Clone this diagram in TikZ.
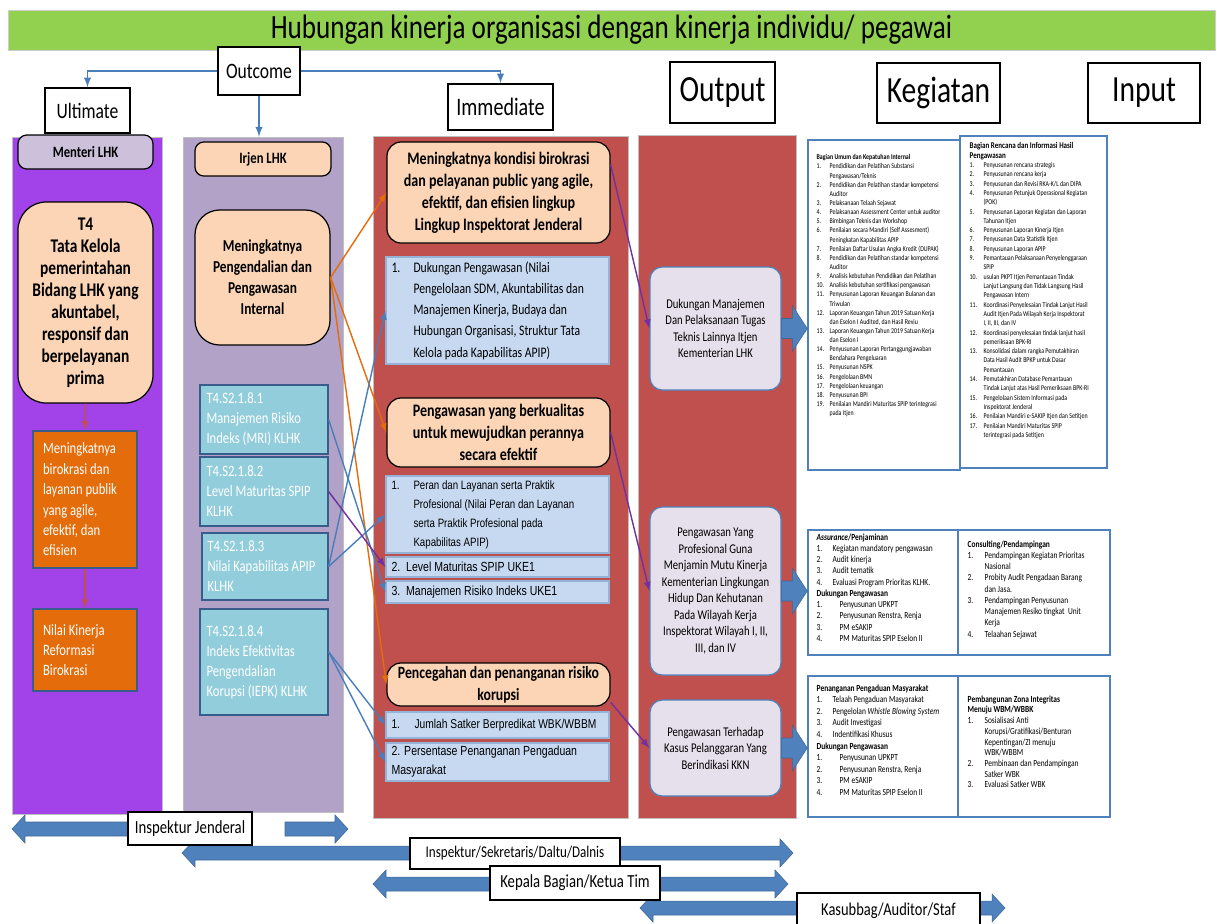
\documentclass[tikz,border=0pt]{standalone}
\usepackage{fontspec}
\setmainfont{Carlito}[FakeStretch=0.8]
\newfontfamily\arialfont{Liberation Sans}[FakeStretch=0.8]
\usetikzlibrary{arrows,positioning,calc}

\definecolor{titlegreen}{RGB}{146,208,80}
\definecolor{ultpurple}{RGB}{161,67,233}
\definecolor{irjlav}{RGB}{178,162,199}
\definecolor{mentfill}{RGB}{204,192,218}
\definecolor{peachc}{RGB}{251,213,181}
\definecolor{orangec}{RGB}{228,108,10}
\definecolor{kpiblue}{RGB}{146,205,220}
\definecolor{kpiedge}{RGB}{56,93,138}
\definecolor{redcol}{RGB}{192,80,77}
\definecolor{lstblue}{RGB}{198,217,241}
\definecolor{lstedge}{RGB}{149,179,215}
\definecolor{outfill}{RGB}{229,224,236}
\definecolor{outedge}{RGB}{79,129,189}
\definecolor{arrowblue}{RGB}{79,129,189}
\definecolor{linkblue}{RGB}{74,126,187}
\definecolor{linkpurple}{RGB}{112,48,160}

\newlength{\knw}
\newcommand{\kn}[2]{\makebox[\knw][l]{#1}#2}
\newcommand{\kc}[1]{\hspace*{\knw}#1}

% fat arrow from an output box to its kegiatan box
\newcommand{\blockarrow}[2]{%
  \fill[blockarrow] let \p1=(#1.east), \p2=(#2.west) in
    (\x1,\y1+0.2cm) -- (\x2-0.3cm,\y1+0.2cm) -- (\x2-0.3cm,\y1+0.46cm) -- (\x2,\y1)
    -- (\x2-0.3cm,\y1-0.46cm) -- (\x2-0.3cm,\y1-0.2cm) -- (\x1,\y1-0.2cm) -- cycle;}
% flat bar arrow for the levels at the bottom
\newcommand{\barto}[2]{%
  \fill[bararrow] let \p1=(#1), \p2=(#2), \n1={sign(\x2-\x1)} in
    (\x1,\y1+0.14cm) -- (\x2-\n1*0.26cm,\y1+0.14cm) -- (\x2-\n1*0.26cm,\y1+0.28cm) -- (\x2,\y1)
    -- (\x2-\n1*0.26cm,\y1-0.28cm) -- (\x2-\n1*0.26cm,\y1-0.14cm) -- (\x1,\y1-0.14cm) -- cycle;}

\tikzset{
  span/.style n args={4}{at={({(#1+#3)/2},{(#2+#4)/2})},
    minimum width={(#3-#1)*0.02cm}, minimum height={(#4-#2)*0.02cm}},
  hdr/.style={draw=black, line width=0.8pt, fill=white, inner sep=0pt, font=\fontsize{12.5}{14}\selectfont},
  bighdr/.style={hdr, font=\fontsize{21}{24}\selectfont},
  col/.style={draw=gray!50, inner sep=0pt},
  peach/.style={draw=black, line width=0.7pt, fill=peachc, rounded corners=8pt, inner sep=0pt, align=center, font=\bfseries\fontsize{10}{12.5}\selectfont},
  kpi/.style={draw=kpiedge, line width=0.7pt, fill=kpiblue, inner sep=0pt, text=white, align=flush left, text width=2.3cm, font=\fontsize{9}{11.4}\selectfont},
  orangebox/.style={draw=kpiedge, line width=0.7pt, fill=orangec, inner sep=0pt, text=white, align=flush left, text width=1.68cm, font=\fontsize{9}{11.6}\selectfont},
  lst/.style={draw=lstedge, line width=0.7pt, fill=lstblue, inner sep=0pt, align=flush left, text width=4.24cm, font=\arialfont\fontsize{7.5}{10.8}\selectfont},
  outbox/.style={draw=outedge, line width=0.7pt, fill=outfill, rounded corners=7pt, inner sep=0pt, align=center, font=\fontsize{7.6}{9.4}\selectfont},
  keg/.style={draw=outedge, line width=0.8pt, inner sep=0pt},
  ktext/.style={anchor=north west, inner sep=0pt, align=left},
  lbl/.style={draw=black, line width=0.8pt, fill=white, inner sep=0pt},
  outlink/.style={draw=linkblue, line width=0.9pt, -latex},
  orangelink/.style={draw=orangec, line width=0.8pt, -latex},
  bluelink/.style={draw=linkblue, line width=0.8pt, -latex},
  purplelink/.style={draw=linkpurple, line width=0.8pt, -latex},
  redlink/.style={draw=redcol, line width=0.8pt, -latex},
  blockarrow/.style={fill=arrowblue, draw=arrowblue!80!black, line width=0.3pt},
  bararrow/.style={fill=arrowblue, draw=arrowblue!80!black, line width=0.3pt}
}

\begin{document}
\begin{tikzpicture}[x=0.02cm, y=-0.02cm]
\useasboundingbox (0,0) rectangle (1217,923);

% title and headings
\node[fill=titlegreen, draw=gray!40, inner sep=0pt, span={8}{10}{1215}{50},
      font=\fontsize{19.3}{22}\selectfont] (title) {Hubungan kinerja organisasi dengan kinerja individu/ pegawai};
\node[hdr, span={218}{47}{300}{95}] (outcome) {Outcome};
\node[hdr, span={45}{88}{130}{133}] (ultimate) {Ultimate};
\node[hdr, span={448}{84}{553}{130}, font=\fontsize{14.3}{16}\selectfont] (immediate) {Immediate};
\node[bighdr, span={670}{62}{775}{123}] (output) {Output};
\node[bighdr, span={877}{63}{1000}{123}] (kegiatan) {Kegiatan};
\node[bighdr, span={1088}{63}{1200}{123}] (input) {Input};

% columns
\node[col, fill=ultpurple, span={12}{137}{162}{814}] (ultcol) {};
\node[col, fill=irjlav, span={183}{137}{343}{812}] (irjcol) {};
\node[col, fill=redcol, span={373}{136}{628}{818}] (immcol) {};
\node[col, fill=redcol, span={638}{135}{796}{818}] (outcol) {};

\draw[outlink] (outcome.west) -| (ultimate.north);
\draw[outlink] (outcome.east) -| (immediate.north);
\draw[outlink] (outcome.south) -- (outcome.south |- irjcol.north);

% ultimate column
\node[peach, fill=mentfill, rounded corners=5pt, font=\bfseries\fontsize{9}{11}\selectfont,
      span={18}{135}{153}{169}] (menteri) {Menteri LHK};
\node[peach, rounded corners=16pt, font=\bfseries\fontsize{11}{12.5}\selectfont, span={18}{202}{153}{403}] (t4)
  {T4\\Tata Kelola\\pemerintahan\\Bidang LHK yang\\akuntabel,\\responsif dan\\berpelayanan\\prima};
\node[orangebox, span={33}{431}{137}{568}] (ora1)
  {Meningkatnya\\birokrasi dan\\layanan publik\\yang agile,\\efektif, dan\\efisien};
\node[orangebox, span={33}{609}{137}{691}] (ora2) {Nilai Kinerja\\Reformasi\\Birokrasi};
\draw[redlink] (t4.south) -- (ora1.north);
\draw[redlink] (ora1.south) -- (ora2.north);

% irjen column
\node[peach, rounded corners=5pt, font=\bfseries\fontsize{9}{11}\selectfont,
      span={195}{142}{331}{176}] (irjen) {Irjen LHK};
\node[peach, rounded corners=14pt, font=\bfseries\fontsize{9.5}{12}\selectfont,
      span={195}{210}{330}{345}] (peng) {Meningkatnya\\Pengendalian dan\\Pengawasan\\Internal};
\node[kpi, span={200}{385}{328}{454}] (b1) {T4.S2.1.8.1\\Manajemen Risiko\\Indeks (MRI) KLHK};
\node[kpi, span={200}{457}{328}{526}] (b2) {T4.S2.1.8.2\\Level Maturitas SPIP\\KLHK};
\node[kpi, span={202}{533}{328}{600}] (b3) {T4.S2.1.8.3\\Nilai Kapabilitas APIP\\KLHK};
\node[kpi, span={200}{609}{328}{715}] (b4) {T4.S2.1.8.4\\Indeks Efektivitas\\Pengendalian\\Korupsi (IEPK) KLHK};

% immediate column
\node[peach, span={387}{142}{610}{243}] (i1)
  {Meningkatnya kondisi birokrasi\\dan pelayanan public yang agile,\\efektif, dan efisien lingkup\\Lingkup Inspektorat Jenderal};
\node[lst, font=\fontsize{8.3}{12.1}\selectfont, span={386}{257}{609}{364}] (l1)
  {\makebox[0.44cm][l]{1.}Dukungan Pengawasan (Nilai\\
   \hspace*{0.44cm}Pengelolaan SDM, Akuntabilitas dan\\
   \hspace*{0.44cm}Manajemen Kinerja, Budaya dan\\
   \hspace*{0.44cm}Hubungan Organisasi, Struktur Tata\\
   \hspace*{0.44cm}Kelola pada Kapabilitas APIP)};
\node[peach, font=\bfseries\fontsize{10}{12.3}\selectfont, span={387}{398}{610}{467}] (i2)
  {Pengawasan yang berkualitas\\untuk mewujudkan perannya\\secara efektif};
\node[lst, font=\arialfont\fontsize{6.9}{10.8}\selectfont, span={386}{476}{609}{553}] (l2)
  {\makebox[0.44cm][l]{1.}Peran dan Layanan serta Praktik\\
   \hspace*{0.44cm}Profesional (Nilai Peran dan Layanan\\
   \hspace*{0.44cm}serta Praktik Profesional pada\\
   \hspace*{0.44cm}Kapabilitas APIP)};
\node[lst, span={386}{557}{609}{577}] (l3) {2.\ \ Level Maturitas SPIP UKE1};
\node[lst, span={386}{581}{609}{603}] (l4) {3.\ \ Manajemen Risiko Indeks UKE1};
\node[peach, font=\bfseries\fontsize{9.8}{12.3}\selectfont, span={387}{663}{610}{706}] (i3)
  {Pencegahan dan penanganan risiko\\korupsi};
\node[lst, font=\arialfont\fontsize{7.3}{10.8}\selectfont, span={386}{712}{609}{738}] (l5)
  {\makebox[0.46cm][l]{1.}Jumlah Satker Berpredikat WBK/WBBM};
\node[lst, span={386}{743}{609}{781}] (l6) {2. Persentase Penanganan Pengaduan\\Masyarakat};

\draw[orangelink] (peng.east) -- (i1.west);
\draw[orangelink] (peng.east) -- (i2.west);
\draw[orangelink] (peng.east) -- (i3.west);
\draw[bluelink] (b3.east) -- (l1.west);
\draw[bluelink] (b3.east) -- (l2.west);
\draw[bluelink] (b1.east) -- (l4.west);
\draw[purplelink] (b2.east) -- (l3.west);
\draw[bluelink] (b4.9) -- (l5.west);
\draw[bluelink] (b4.9) -- (l6.west);

% output column
\node[outbox, span={650}{267}{781}{390}] (o1)
  {Dukungan Manajemen\\Dan Pelaksanaan Tugas\\Teknis Lainnya Itjen\\Kementerian LHK};
\node[outbox, span={650}{507}{781}{675}] (o2)
  {Pengawasan Yang\\Profesional Guna\\Menjamin Mutu Kinerja\\Kementerian Lingkungan\\Hidup Dan Kehutanan\\Pada Wilayah Kerja\\Inspektorat Wilayah I, II,\\III, dan IV};
\node[outbox, span={650}{700}{781}{796}] (o3)
  {Pengawasan Terhadap\\Kasus Pelanggaran Yang\\Berindikasi KKN};

\draw[purplelink] (i1.14) -- (o1.west);
\draw[purplelink] (i2.east) -- (o2.west);
\draw[purplelink] (i3.-9) -- (o3.west);

% kegiatan boxes
\node[keg, span={808}{140}{960}{470}] (k1a) {};
\node[keg, span={960}{136}{1107}{468}] (k1b) {};
\node[keg, span={808}{530}{958}{655}] (k2a) {};
\node[keg, span={958}{530}{1110}{655}] (k2b) {};
\node[keg, span={808}{676}{958}{817}] (k3a) {};
\node[keg, span={958}{676}{1110}{817}] (k3b) {};

\blockarrow{o1}{k1a}
\blockarrow{o2}{k2a}
\blockarrow{o3}{k3a}

\node[ktext, font=\fontsize{4.2}{5.2}\selectfont\setlength{\knw}{0.26cm}] (k1atext) at ($(k1a.north west)+(9,15)$)
  {\textbf{Bagian Umum dan Kepatuhan Internal}\\
   \kn{1.}{Pendidikan dan Pelatihan Substansi}\\
   \kc{Pengawasan/Teknis}\\
   \kn{2.}{Pendidikan dan Pelatihan standar kompetensi}\\
   \kc{Auditor}\\
   \kn{3.}{Pelaksanaan Telaah Sejawat}\\
   \kn{4.}{Pelaksanaan Assessment Center untuk auditor}\\
   \kn{5.}{Bimbingan Teknis dan Workshop}\\
   \kn{6.}{Penilaian secara Mandiri (Self Assesment)}\\
   \kc{Peningkatan Kapabilitas APIP}\\
   \kn{7.}{Penilaian Daftar Usulan Angka Kredit (DUPAK)}\\
   \kn{8.}{Pendidikan dan Pelatihan standar kompetensi}\\
   \kc{Auditor}\\
   \kn{9.}{Analisis kebutuhan Pendidikan dan Pelatihan}\\
   \kn{10.}{Analisis kebutuhan sertifikasi pengawasan}\\
   \kn{11.}{Penyusunan Laporan Keuangan Bulanan dan}\\
   \kc{Triwulan}\\
   \kn{12.}{Laporan Keuangan Tahun 2019 Satuan Kerja}\\
   \kc{dan Eselon I Audited, dan Hasil Reviu}\\
   \kn{13.}{Laporan Keuangan Tahun 2019 Satuan Kerja}\\
   \kc{dan Eselon I}\\
   \kn{14.}{Penyusunan Laporan Pertanggungjawaban}\\
   \kc{Bendahara Pengeluaran}\\
   \kn{15.}{Penyusunan NSPK}\\
   \kn{16.}{Pengelolaan BMN}\\
   \kn{17.}{Pengelolaan keuangan}\\
   \kn{18.}{Penyusunan BPI}\\
   \kn{19.}{Penilaian Mandiri Maturitas SPIP terintegrasi}\\
   \kc{pada Itjen}};
\node[ktext, font=\fontsize{4.2}{5.3}\selectfont\setlength{\knw}{0.28cm}] (k1btext) at ($(k1b.north west)+(10,7)$)
  {{\fontsize{5}{6.2}\selectfont\textbf{Bagian Rencana dan Informasi Hasil}}\\
   {\fontsize{5}{6.2}\selectfont\textbf{Pengawasan}}\\
   \kn{1.}{Penyusunan rencana strategis}\\
   \kn{2.}{Penyusunan rencana kerja}\\
   \kn{3.}{Penyusunan dan Revisi RKA-K/L dan DIPA}\\
   \kn{4.}{Penyusunan Petunjuk Operasional Kegiatan}\\
   \kc{(POK)}\\
   \kn{5.}{Penyusunan Laporan Kegiatan dan Laporan}\\
   \kc{Tahunan Itjen}\\
   \kn{6.}{Penyusunan Laporan Kinerja Itjen}\\
   \kn{7.}{Penyusunan Data Statistik Itjen}\\
   \kn{8.}{Penyusunan Laporan APIP}\\
   \kn{9.}{Pemantauan Pelaksanaan Penyelenggaraan}\\
   \kc{SPIP}\\
   \kn{10.}{usulan PKPT Itjen Pemantauan Tindak}\\
   \kc{Lanjut Langsung dan Tidak Langsung Hasil}\\
   \kc{Pengawasan Intern}\\
   \kn{11.}{Koordinasi Penyelesaian Tindak Lanjut Hasil}\\
   \kc{Audit Itjen Pada Wilayah Kerja Inspektorat}\\
   \kc{I, II, III, dan IV}\\
   \kn{12.}{Koordinasi penyelesaian tindak lanjut hasil}\\
   \kc{pemeriksaan BPK-RI}\\
   \kn{13.}{Konsolidasi dalam rangka Pemutakhiran}\\
   \kc{Data Hasil Audit BPKP untuk Dasar}\\
   \kc{Pemantauan}\\
   \kn{14.}{Pemutakhiran Database Pemantauan}\\
   \kc{Tindak Lanjut atas Hasil Pemeriksaan BPK-RI}\\
   \kn{15.}{Pengelolaan Sistem Informasi pada}\\
   \kc{Inspektorat Jenderal}\\
   \kn{16.}{Penilaian Mandiri e-SAKIP Itjen dan Setitjen}\\
   \kn{17.}{Penilaian Mandiri Maturitas SPIP}\\
   \kc{terintegrasi pada Setitjen}};
\node[ktext, font=\fontsize{5.3}{6.4}\selectfont\setlength{\knw}{0.32cm}] (k2atext) at ($(k2a.north west)+(9,4)$)
  {\textbf{\textit{Assurance}/Penjaminan}\\
   \kn{1.}{Kegiatan mandatory pengawasan}\\
   \kn{2.}{Audit kinerja}\\
   \kn{3.}{Audit tematik}\\
   \kn{4.}{Evaluasi Program Prioritas KLHK.}\\
   \textbf{Dukungan Pengawasan}\\
   \kn{1.}{\hspace*{0.14cm}Penyusunan UPKPT}\\
   \kn{2.}{\hspace*{0.14cm}Penyusunan Renstra, Renja}\\
   \kn{3.}{\hspace*{0.14cm}PM eSAKIP}\\
   \kn{4.}{\hspace*{0.14cm}PM Maturitas SPIP Eselon II}};
\node[ktext, font=\fontsize{5.3}{6.4}\selectfont\setlength{\knw}{0.34cm}] (k2btext) at ($(k2b.north west)+(10,11)$)
  {\textbf{Consulting/Pendampingan}\\
   \kn{1.}{Pendampingan Kegiatan Prioritas}\\
   \kc{Nasional}\\
   \kn{2.}{Probity Audit Pengadaan Barang}\\
   \kc{dan Jasa.}\\
   \kn{3.}{Pendampingan Penyusunan}\\
   \kc{Manajemen Resiko tingkat\ \ Unit}\\
   \kc{Kerja}\\
   \kn{4.}{Telaahan Sejawat}};
\node[ktext, font=\fontsize{5.3}{6.6}\selectfont\setlength{\knw}{0.32cm}] (k3atext) at ($(k3a.north west)+(9,9)$)
  {\textbf{Penanganan Pengaduan Masyarakat}\\
   \kn{1.}{Telaah Pengaduan Masyarakat}\\
   \kn{2.}{Pengelolan \textit{Whistle Blowing System}}\\
   \kn{3.}{Audit Investigasi}\\
   \kn{4.}{Indentifikasi Khusus}\\
   \textbf{Dukungan Pengawasan}\\
   \kn{1.}{\hspace*{0.14cm}Penyusunan UPKPT}\\
   \kn{2.}{\hspace*{0.14cm}Penyusunan Renstra, Renja}\\
   \kn{3.}{\hspace*{0.14cm}PM eSAKIP}\\
   \kn{4.}{\hspace*{0.14cm}PM Maturitas SPIP Eselon II}};
\node[ktext, font=\fontsize{5.3}{6.1}\selectfont\setlength{\knw}{0.34cm}] (k3btext) at ($(k3b.north west)+(10,20)$)
  {\textbf{Pembangunan Zona Integritas}\\
   \textbf{Menuju WBM/WBBK}\\
   \kn{1.}{Sosialisasi Anti}\\
   \kc{Korupsi/Gratifikasi/Benturan}\\
   \kc{Kepentingan/ZI menuju}\\
   \kc{WBK/WBBM}\\
   \kn{2.}{Pembinaan dan Pendampingan}\\
   \kc{Satker WBK}\\
   \kn{3.}{Evaluasi Satker WBK}};

% levels at the bottom
\coordinate (r1l) at (12,829);
\coordinate (r1m) at (190,829);
\coordinate (r1a) at (285,829);
\coordinate (r1r) at (348,829);
\coordinate (r2l) at (182,853);
\coordinate (r2m) at (515,853);
\coordinate (r2r) at (793,853);
\coordinate (r3l) at (373,884);
\coordinate (r3m) at (575,884);
\coordinate (r3r) at (788,884);
\coordinate (r4l) at (640,908);
\coordinate (r4m) at (888,908);
\coordinate (r4r) at (1005,908);

\barto{r1m}{r1l}
\barto{r1a}{r1r}
\barto{r2m}{r2l}
\barto{r2m}{r2r}
\barto{r3m}{r3l}
\barto{r3m}{r3r}
\barto{r4m}{r4l}
\barto{r4m}{r4r}

\node[lbl, span={128}{812}{252}{845}, font=\fontsize{10.5}{12}\selectfont] (ij) {Inspektur Jenderal};
\node[lbl, span={410}{838}{620}{869}, font=\fontsize{9.3}{11}\selectfont] (isdd) {Inspektur/Sekretaris/Daltu/Dalnis};
\node[lbl, span={490}{866}{660}{900}, font=\fontsize{10.5}{12}\selectfont] (kbkt) {Kepala Bagian/Ketua Tim};
\node[lbl, span={797}{893}{980}{928}, font=\fontsize{10.3}{12}\selectfont] (kas) {Kasubbag/Auditor/Staf};
\end{tikzpicture}
\end{document}
